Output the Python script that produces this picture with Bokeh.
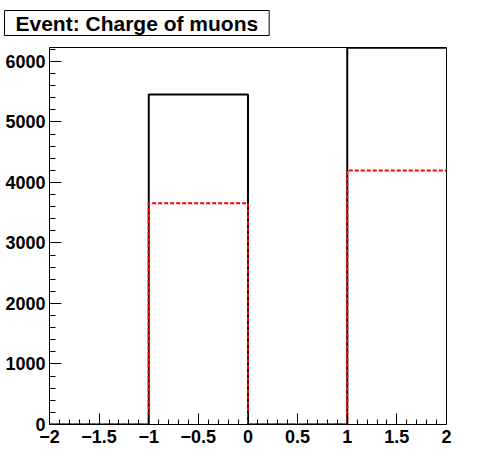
from bokeh.plotting import figure
from bokeh.models import Range1d, SingleIntervalTicker
from bokeh.embed import file_html
from bokeh.resources import INLINE

# Data
bin_edges = [-2, -1, 0, 1, 2]
all_counts = [0, 5455, 0, 6225]
red_counts = [0, 3658, 0, 4198]
title_text = "Event: Charge of muons"

FONT = "Liberation Sans"

p = figure(width=488, height=464, output_backend="svg", toolbar_location=None,
           x_range=Range1d(-2, 2), y_range=Range1d(0, 6230),
           min_border_left=49, min_border_right=42, min_border_top=47, min_border_bottom=40)
p.grid.visible = False
p.outline_line_color = "black"
p.outline_line_width = 1
p.background_fill_color = "white"
p.border_fill_color = "white"

# histogram outlines
p.step(x=bin_edges, y=all_counts + [all_counts[-1]], mode="after",
       line_color="black", line_width=2)
p.step(x=bin_edges, y=red_counts + [red_counts[-1]], mode="after",
       line_color="red", line_width=2, line_dash="4 2")

# axes
xa = p.xaxis[0]
xa.ticker = SingleIntervalTicker(interval=0.5, num_minor_ticks=5)
xa.major_tick_in = 11
xa.major_tick_out = 0
xa.minor_tick_in = 5
xa.minor_tick_out = 0
xa.axis_line_color = "black"
xa.major_label_text_font = FONT
xa.major_label_text_font_style = "bold"
xa.major_label_text_font_size = "18px"
xa.major_label_text_color = "black"
xa.major_label_standoff = 5

ya = p.yaxis[0]
ya.ticker = SingleIntervalTicker(interval=1000, num_minor_ticks=5)
ya.major_tick_in = 12
ya.major_tick_out = 0
ya.minor_tick_in = 6
ya.minor_tick_out = 0
ya.axis_line_color = "black"
ya.major_label_text_font = FONT
ya.major_label_text_font_style = "bold"
ya.major_label_text_font_size = "18px"
ya.major_label_text_color = "black"
ya.major_label_standoff = 4

# title box
t = p.title
t.text = title_text
t.align = "left"
t.offset = -45
t.text_font = FONT
t.text_font_style = "bold"
t.text_font_size = "21px"
t.text_color = "black"
t.border_line_color = "black"
t.border_line_width = 1
t.background_fill_color = "white"
t.padding = (11, 1)
t.standoff = 20
t.vertical_align = "top"

open("out.html", "w").write(file_html(p, INLINE))
